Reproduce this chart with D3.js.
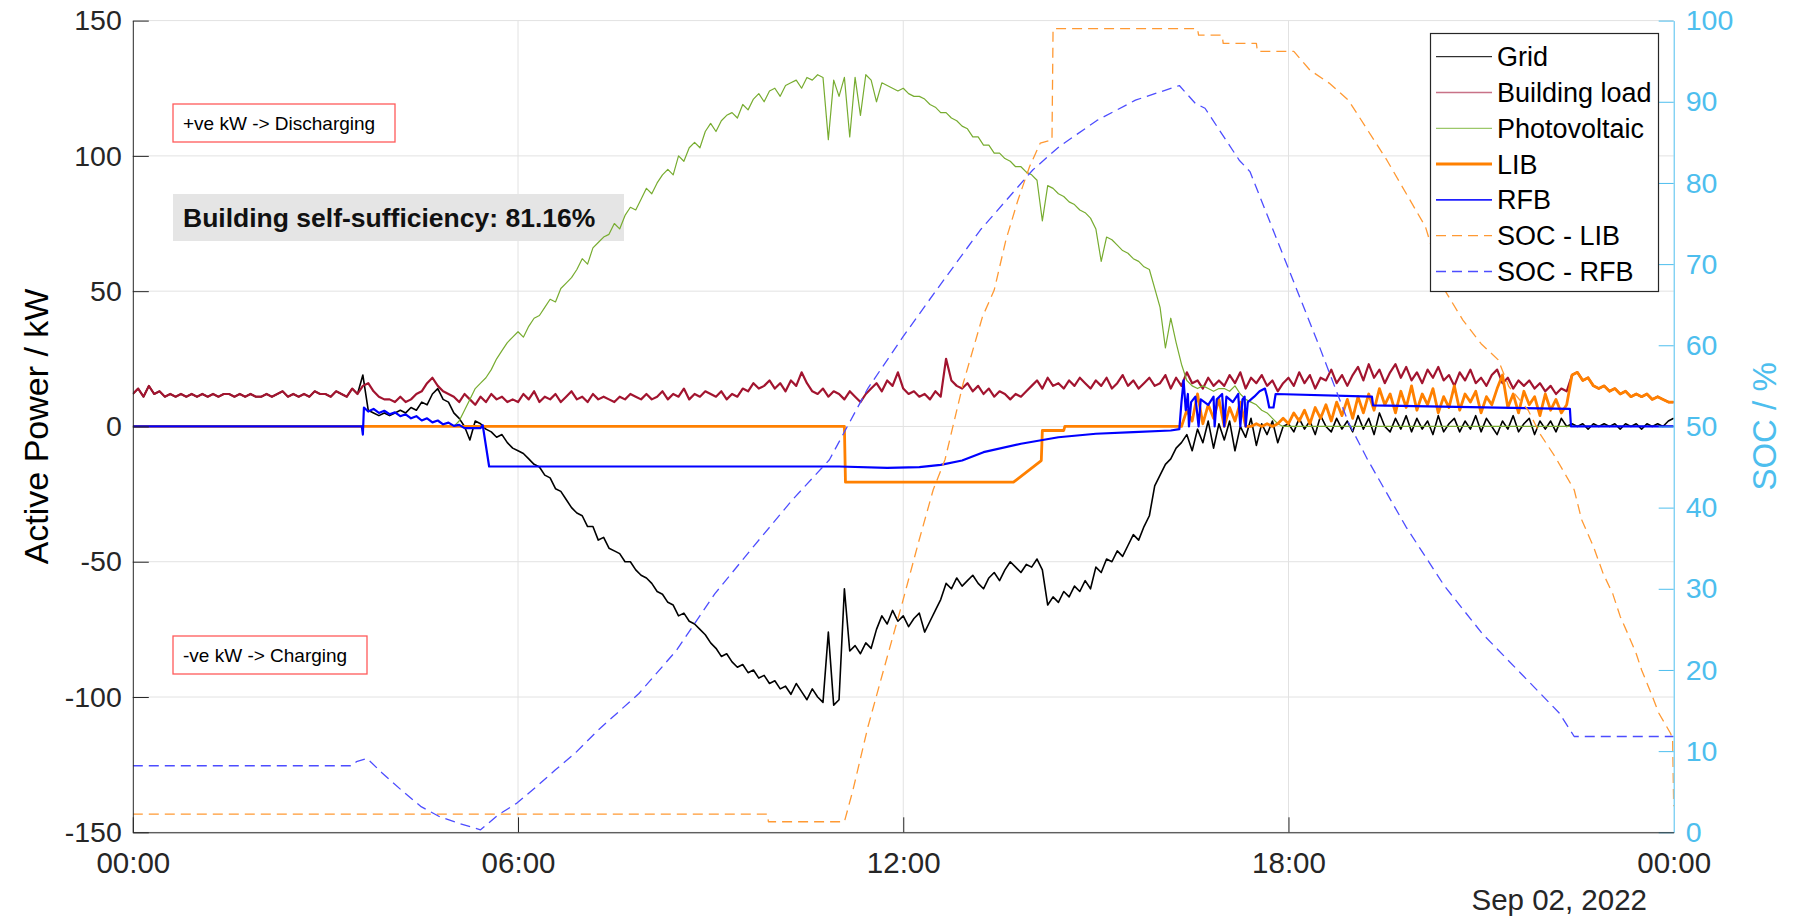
<!DOCTYPE html>
<html lang="en">
<head>
<meta charset="UTF-8" />
<title>Active power and SOC - Sep 01, 2022</title>
<script src="https://d3js.org/d3.v7.min.js"></script>
<style>
  body { margin: 0; background: #fff; }
  svg { display: block; font-family: "Liberation Sans", Arial, Helvetica, sans-serif; }
  .tick text { fill: #262626; }
  .series { fill: none; stroke-linejoin: round; }
</style>
</head>
<body>
<div id="chart"></div>
<script>
// ---- data (kW on the left axis, % on the right) ----
// 5-minute samples, 00:00 .. 24:00 (289 values)
const loadKW = [
  12,14,11,15,12,13,11,12,11,12,11,12,
  11,12,11,12,11,12,12,11,12,11,12,11,
  11,12,11,12,13,11,12,11,12,11,13,12,
  12,11,13,12,11,14,12,15,16,13,11,10,
  10,9,11,9,10,12,13,16,18,15,13,12,
  11,9,12,10,8,11,9,12,10,11,9,10,
  9,12,10,13,9,11,10,12,9,11,13,10,
  11,9,12,10,11,10,9,11,10,12,11,10,
  12,10,11,13,10,12,11,14,10,12,11,13,
  12,11,13,10,12,11,14,13,16,14,15,17,
  14,16,13,17,15,20,16,13,12,14,11,13,
  12,10,13,11,9,12,14,16,13,17,15,20,
  14,12,13,11,12,10,13,11,25,17,15,14,
  16,13,15,12,14,11,13,12,10,12,11,13,
  15,17,14,18,15,16,14,17,15,18,16,14,
  17,15,18,14,16,19,15,17,14,16,18,15,
  16,19,14,18,15,20,16,17,14,18,15,17,
  15,19,16,20,14,18,16,19,15,17,13,16,
  18,15,20,16,19,14,18,17,21,16,19,15,
  19,22,17,23,18,21,16,20,23,18,22,17,
  20,16,21,18,22,17,19,15,20,17,21,16,
  18,15,19,21,16,18,14,17,15,17,14,16,
  13,15,12,14,13,19,20,17,18,15,14,15,
  13,14,12,13,11,12,11,12,10,11,10,9,
  9
];
const gridKW = [
  12,14,11,15,12,13,11,12,11,12,11,12,
  11,12,11,12,11,12,12,11,12,11,12,11,
  11,12,11,12,13,11,12,11,12,11,13,12,
  12,11,13,12,11,14,12,19,6,5,4,5,
  4,5,6,5,7,6,9,8,12,14,10,9,
  5,3,0,-5,2,1,-1,-2,-4,-3,-6,-8,
  -9,-10,-12,-14,-15,-18,-19,-23,-24,-27,-30,-32,
  -33,-37,-37,-42,-41,-45,-46,-47,-50,-50,-53,-55,
  -56,-58,-61,-62,-65,-66,-70,-69,-72,-73,-75,-77,
  -80,-82,-85,-84,-87,-89,-88,-91,-90,-93,-92,-95,
  -94,-97,-96,-99,-95,-98,-101,-97,-100,-102,-76,-103,
  -101,-60,-83,-81,-84,-80,-82,-75,-70,-73,-68,-72,
  -70,-74,-71,-69,-76,-72,-68,-64,-58,-60,-56,-59,
  -57,-55,-58,-60,-56,-54,-57,-53,-50,-52,-54,-51,
  -52,-49,-53,-66,-63,-65,-61,-63,-59,-61,-57,-60,
  -52,-54,-49,-50,-46,-48,-44,-40,-42,-37,-33,-22,
  -18,-14,-12,-8,-6,-3,-9,-1,-6,2,-8,1,
  -5,2,-9,0,-4,3,-7,1,-3,2,-6,0,
  1,-2,3,-1,2,-3,4,0,-2,3,-1,2,
  -2,4,-1,3,-3,5,0,-2,3,-1,4,-2,
  3,-1,2,-3,4,-2,1,3,-2,2,-1,4,
  -2,3,0,-3,2,-1,4,-2,1,3,-3,2,
  -1,2,-2,3,0,1,0,1,-1,1,0,1,
  0,1,-1,1,0,1,-1,1,0,1,0,2,
  3
];
// photovoltaic, 5-minute samples 04:55 .. 18:00 (zero outside)
const pvStart = "04:55";
const pvKW = [
  0,
  0,2,6,10,14,16,18,21,25,28,31,33,
  35,33,37,40,41,44,47,46,51,53,55,58,
  62,60,66,68,70,71,75,73,78,81,80,84,
  88,86,90,93,95,93,100,98,103,105,103,109,
  112,109,113,115,116,114,119,117,121,123,120,124,
  125,122,126,127,128,125,129,128,130,129,106,128,
  122,129,107,129,115,130,128,120,127,126,125,124,
  125,123,122,122,121,119,118,116,116,114,113,111,
  110,107,107,104,104,101,101,99,98,96,96,94,
  93,91,76,89,88,86,85,83,82,80,79,77,
  73,61,70,69,67,65,64,62,61,59,58,51,
  44,29,40,31,23,17,15,14,15,14,13,14,
  14,13,15,12,10,9,8,6,5,3,1,0,
  0
];
// LIB power: breakpoints, then 5-minute samples from 16:25 to 24:00
const libTimes = ["00:00","11:05","11:06","13:43","14:09","14:10","14:30","14:31","16:20"];
const libKW = [0, 0, -20.6, -20.6, -12.6, -1.5, -1.5, 0, 0];
const libNoisyStart = "16:25";
const libNoisyKW = [
  6,2,12,1,8,3,10,
  0,7,2,9,0,0,1,0,1,0,1,3,
  1,5,2,6,1,7,3,8,2,9,4,10,
  3,11,5,12,6,14,8,12,5,13,7,15,
  6,12,8,14,5,11,7,15,6,12,9,13,
  5,11,8,14,19,7,12,5,13,8,11,4,
  12,6,10,5,8,19,20,17,18,15,14,15,
  13,14,12,13,11,12,11,12,10,11,10,9,
  9
];
// RFB power breakpoints
const rfbTimes = [
  "00:00","03:34","03:35","03:36","03:40","03:45","03:50","03:55","04:00","04:05","04:10","04:15",
  "04:20","04:25","04:30","04:35","04:40","04:45","04:50","04:55","05:00","05:05","05:10","05:25",
  "05:27","05:33","11:00","11:45","12:15","12:35","12:55","13:15","13:50","14:25","15:00","15:35",
  "16:10","16:18","16:20","16:22","16:24","16:26","16:27","16:29","16:33","16:36","16:38","16:45",
  "16:50","16:51","16:53","16:58","17:00","17:02","17:08","17:13","17:15","17:17","17:19","17:20",
  "17:22","17:28","17:33","17:38","17:40","17:42","17:46","17:48","19:18","19:19","22:23","22:24",
  "24:00"
];
const rfbKW = [
  0, 0, -3, 7, 5.5, 6.5, 5, 5.8, 4.5, 5.2, 3.8, 4.5,
  3, 3.8, 2.2, 3, 1.5, 2.2, 0.8, 1.4, 0.2, 0.6, -0.6, -0.6,
  0.5, -14.8, -14.8, -15.3, -15, -14.2, -12.6, -9.5, -6.4, -4, -2.7, -2.1,
  -1.5, -1, 9, 17, 6, 12, 0, 9, 11, 0, 10, 8,
  11, 0, 10, 12, 0, 11, 9, 12, 0, 10, 11, 0,
  9, 11, 13, 14, 11, 7, 7, 12, 11, 7.8, 6.5, 0,
  0
];
// state of charge, %
const socLibTimes = [
  "00:00","09:53","09:54","11:05","11:13","11:27","11:45","11:59","12:14","12:28","12:39","12:56",
  "13:14","13:25","13:36","13:47","13:58","14:08","14:19","14:20","16:35","16:36","16:58","16:59",
  "17:30","17:31","18:05","18:20","18:38","18:56","19:14","19:32","19:50","20:08","20:26","20:43",
  "21:00","21:16","21:26","21:44","21:55","22:09","22:27","22:34","22:45","22:54","23:03","23:10",
  "23:17","23:25","23:30","23:39","23:46","23:57","23:59","24:00"
];
const socLib = [
  2.25, 2.25, 1.3, 1.3, 5.2, 13, 21.6, 28.2, 35.6, 42.2, 45.9, 55.3,
  63.5, 66.8, 73, 77.8, 82, 84.9, 85.3, 99, 99, 98.2, 98.2, 97.2,
  97.2, 96.2, 96.2, 93.9, 92.3, 90.2, 86.5, 82.8, 78.7, 74.6, 66.8, 63.1,
  60.2, 58.2, 54.9, 52, 49.1, 46.3, 42.2, 38.5, 35.2, 31.9, 29.4, 26.6,
  24.5, 22, 20, 17.1, 14.7, 12.2, 11.5, 3.2
];
const socRfbTimes = [
  "00:00","03:25","03:29","03:39","03:53","04:11","04:29","04:47","05:05","05:25","05:41","05:59",
  "06:17","06:35","06:53","07:15","07:53","08:28","09:04","09:40","10:16","10:51","11:27","12:00",
  "12:31","13:12","14:01","14:26","15:01","15:37","16:18","16:33","16:42","17:14","17:24","17:58",
  "18:29","18:56","19:14","19:50","20:26","21:01","21:37","22:13","22:27","24:00"
];
const socRfb = [
  8.2, 8.2, 8.7, 9.1, 7.3, 5.2, 3.2, 1.9, 1.1, 0.3, 2.1, 3.6,
  5.6, 7.7, 9.7, 12.6, 17.1, 22.4, 29.4, 35.2, 40.9, 45.9, 54.7, 61.1,
  66.8, 74.2, 81.6, 84.5, 87.7, 90.2, 92, 89.8, 89.2, 82.8, 81.4, 70.1,
  59.8, 50.5, 45.9, 37.6, 30.3, 24.5, 19.6, 14.7, 11.8, 11.8
];

const powerTicks = [-150, -100, -50, 0, 50, 100, 150];
const socTicks = [0, 10, 20, 30, 40, 50, 60, 70, 80, 90, 100];
const timeTicks = ["00:00", "06:00", "12:00", "18:00", "24:00"];
const legendNames = ["Grid", "Building load", "Photovoltaic", "LIB", "RFB", "SOC - LIB", "SOC - RFB"];

// ---- helpers ----
const at = hm => { const [h, m] = hm.split(":").map(Number); return new Date(2022, 8, 1, h, m); };
const every5 = (start, values) => { const s = +at(start); return values.map((v, i) => [new Date(s + i * 300000), v]); };
const pairs = (times, values) => times.map((t, i) => [at(t), values[i]]);

const W = 1795, H = 917;
const L = 132.8, R = 1673.7, T = 20.6, B = 832.3;

const svg = d3.select("#chart").append("svg").attr("width", W).attr("height", H);

const x = d3.scaleTime().domain([at("00:00"), at("24:00")]).range([L, R]);
const yP = d3.scaleLinear().domain([-150, 150]).range([B, T]);
const yS = d3.scaleLinear().domain([0, 100]).range([B, T]);

// grid lines
const grid = svg.append("g").attr("stroke", "#e2e2e2").attr("stroke-width", 1);
grid.selectAll("line.h").data(powerTicks).join("line").attr("class", "h")
  .attr("x1", L).attr("x2", R).attr("y1", d => yP(d)).attr("y2", d => yP(d));
grid.selectAll("line.v").data(timeTicks.slice(1, -1)).join("line").attr("class", "v")
  .attr("x1", d => x(at(d))).attr("x2", d => x(at(d))).attr("y1", T).attr("y2", B);

// annotations behind the data
const note = svg.append("g");
note.append("rect").attr("x", 173).attr("y", 104).attr("width", 222).attr("height", 38)
  .attr("fill", "#fff").attr("stroke", "#ff5a5a").attr("stroke-width", 1.3);
note.append("text").attr("x", 183).attr("y", 123).attr("dy", "0.35em")
  .attr("font-size", 19).text("+ve kW -> Discharging");
note.append("rect").attr("x", 173).attr("y", 636).attr("width", 194).attr("height", 38)
  .attr("fill", "#fff").attr("stroke", "#ff5a5a").attr("stroke-width", 1.3);
note.append("text").attr("x", 183).attr("y", 655).attr("dy", "0.35em")
  .attr("font-size", 19).text("-ve kW -> Charging");
note.append("rect").attr("x", 173).attr("y", 194).attr("width", 451).attr("height", 47)
  .attr("fill", "#e5e5e5");
note.append("text").attr("x", 183).attr("y", 218).attr("dy", "0.35em")
  .attr("font-size", 26.5).attr("font-weight", "bold").attr("fill", "#111")
  .text("Building self-sufficiency: 81.16%");

// series
svg.append("clipPath").attr("id", "plot").append("rect")
  .attr("x", L).attr("y", T - 2).attr("width", R - L).attr("height", B - T + 4);
const plot = svg.append("g").attr("clip-path", "url(#plot)");
const lineP = d3.line().x(d => x(d[0])).y(d => yP(d[1]));
const lineS = d3.line().x(d => x(d[0])).y(d => yS(d[1]));

const pvPts = [[at("00:00"), 0], ...every5(pvStart, pvKW), [at("24:00"), 0]];
const libPts = [...pairs(libTimes, libKW), ...every5(libNoisyStart, libNoisyKW)];

const series = [
  { pts: every5("00:00", gridKW), line: lineP, color: "#000000", w: 1.6 },
  { pts: every5("00:00", loadKW), line: lineP, color: "#A2142F", w: 2.2 },
  { pts: pvPts, line: lineP, color: "#77AC30", w: 1.2 },
  { pts: libPts, line: lineP, color: "#FF8000", w: 2.8 },
  { pts: pairs(rfbTimes, rfbKW), line: lineP, color: "#0000FF", w: 2.2 },
  { pts: pairs(socLibTimes, socLib), line: lineS, color: "#FF9933", w: 1.3, dash: "10,6" },
  { pts: pairs(socRfbTimes, socRfb), line: lineS, color: "#4D4DFF", w: 1.3, dash: "10,6" }
];
series.forEach(s => {
  plot.append("path").attr("class", "series")
    .attr("d", s.line(s.pts))
    .attr("stroke", s.color).attr("stroke-width", s.w)
    .attr("stroke-dasharray", s.dash || null);
});

// axes
const plain = d => String(d);
const axL = svg.append("g").attr("transform", `translate(${L},0)`)
  .call(d3.axisLeft(yP).tickValues(powerTicks).tickFormat(plain)
    .tickSizeInner(-16).tickSizeOuter(0).tickPadding(11));
axL.selectAll("path, line").attr("stroke", "#262626");
axL.selectAll("text").attr("font-size", 28.5);

const axR = svg.append("g").attr("transform", `translate(${R},0)`)
  .call(d3.axisRight(yS).tickValues(socTicks).tickFormat(plain)
    .tickSizeInner(-15).tickSizeOuter(0).tickPadding(12));
axR.selectAll("path, line").attr("stroke", "#4DBEEE");
axR.selectAll("text").attr("font-size", 28.5).style("fill", "#4DBEEE");

const axB = svg.append("g").attr("transform", `translate(0,${B})`)
  .call(d3.axisBottom(x).tickValues(timeTicks.map(at)).tickFormat(d3.timeFormat("%H:%M"))
    .tickSizeInner(-15).tickSizeOuter(0).tickPadding(20));
axB.selectAll("path, line").attr("stroke", "#262626");
axB.selectAll("text").attr("font-size", 29.5);
axB.selectAll(".tick").filter((d, i) => i === timeTicks.length - 1).select("line").remove();

svg.append("text").attr("x", 1647).attr("y", 910).attr("text-anchor", "end")
  .attr("font-size", 29.5).attr("fill", "#262626").text("Sep 02, 2022");

svg.append("text").attr("transform", `translate(48,${(T + B) / 2}) rotate(-90)`)
  .attr("text-anchor", "middle").attr("font-size", 34).attr("fill", "#000")
  .text("Active Power / kW");
svg.append("text").attr("transform", `translate(1776,${(T + B) / 2}) rotate(-90)`)
  .attr("text-anchor", "middle").attr("font-size", 33).attr("fill", "#4DBEEE")
  .text("SOC / %");

// legend
const legendStyle = [
  { color: "#000000", w: 1 },
  { color: "#c87287", w: 1.6 },
  { color: "#9cc86a", w: 1.2 },
  { color: "#FF8000", w: 3 },
  { color: "#2020FF", w: 1.6 },
  { color: "#FF9933", w: 1.3, dash: "10,6" },
  { color: "#4D4DFF", w: 1.3, dash: "10,6" }
];
const lg = svg.append("g");
lg.append("rect").attr("x", 1430.5).attr("y", 33.5).attr("width", 228).attr("height", 258)
  .attr("fill", "#fff").attr("stroke", "#262626").attr("stroke-width", 1.2);
const rows = lg.selectAll("g.row").data(legendNames).join("g").attr("class", "row")
  .attr("transform", (d, i) => `translate(0,${56.7 + i * 35.8})`);
rows.append("line").attr("x1", 1436).attr("x2", 1492)
  .attr("stroke", (d, i) => legendStyle[i].color)
  .attr("stroke-width", (d, i) => legendStyle[i].w)
  .attr("stroke-dasharray", (d, i) => legendStyle[i].dash || null);
rows.append("text").attr("x", 1497).attr("dy", "0.35em")
  .attr("font-size", 27).attr("fill", "#000").text(d => d);
</script>
</body>
</html>
